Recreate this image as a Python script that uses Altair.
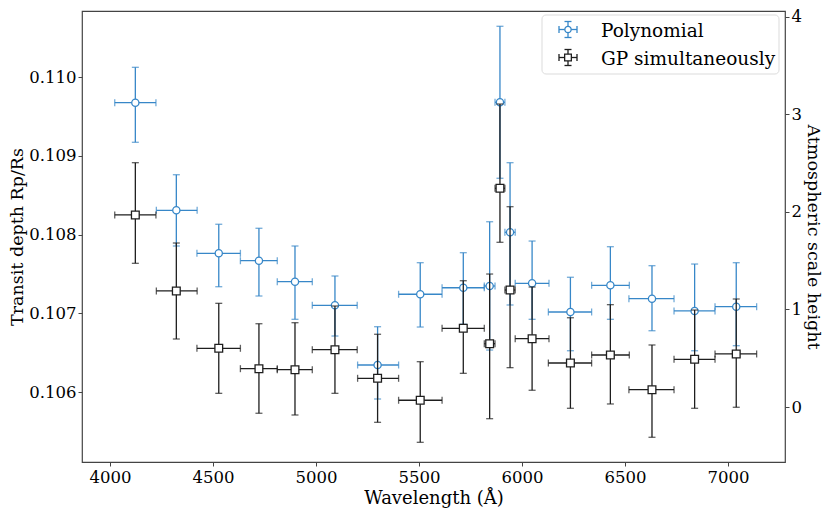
import altair as alt
import pandas as pd

# ---------------- data ----------------
wavelength = [4123, 4322, 4528, 4723, 4898, 5092, 5299, 5506, 5715, 5843,
              5893, 5942, 6049, 6235, 6429, 6631, 6838, 7040]
wl_lo = [4023, 4225, 4422, 4633, 4812, 4982, 5202, 5401, 5612, 5817,
         5869, 5917, 5967, 6128, 6338, 6519, 6738, 6937]
wl_hi = [4223, 4423, 4633, 4812, 4982, 5200, 5401, 5612, 5817, 5869,
         5917, 5967, 6131, 6338, 6521, 6738, 6937, 7139]

poly_rp = [0.109674, 0.108307, 0.107761, 0.107667, 0.107401, 0.107101, 0.106343,
           0.107241, 0.107324, 0.107346, 0.109679, 0.108028, 0.107380, 0.107016,
           0.107355, 0.107185, 0.107029, 0.107083]
poly_hi = [0.110123, 0.108759, 0.108130, 0.108079, 0.107854, 0.107473, 0.106829,
           0.107642, 0.107769, 0.108162, 0.110644, 0.108912, 0.107917, 0.107457,
           0.107845, 0.107604, 0.107625, 0.107642]
poly_lo = [0.109171, 0.107854, 0.107337, 0.107219, 0.106923, 0.106711, 0.105911,
           0.106825, 0.106860, 0.106533, 0.108714, 0.107105, 0.106923, 0.106524,
           0.106923, 0.106778, 0.106524, 0.106588]

gp_rp = [0.108248, 0.107283, 0.106555, 0.106296, 0.106283, 0.106537, 0.106174,
         0.105895, 0.106809, 0.106613, 0.108587, 0.107295, 0.106677, 0.106368,
         0.106470, 0.106029, 0.106415, 0.106483]
gp_hi = [0.108912, 0.107892, 0.107126, 0.106867, 0.106880, 0.107092, 0.106733,
         0.106385, 0.107413, 0.107498, 0.109657, 0.108353, 0.107333, 0.106943,
         0.107109, 0.106597, 0.107041, 0.107181]
gp_lo = [0.107634, 0.106673, 0.105983, 0.105730, 0.105708, 0.105983, 0.105615,
         0.105361, 0.106237, 0.105661, 0.107901, 0.106309, 0.106022, 0.105793,
         0.105848, 0.105425, 0.105793, 0.105806]

wavelength_ticks = [4000, 4500, 5000, 5500, 6000, 6500, 7000]
rp_ticks = [0.106, 0.107, 0.108, 0.109, 0.110]
scale_height_ticks = [0, 1, 2, 3, 4]
series_names = ["Polynomial", "GP simultaneously"]

# ---------------- styling ----------------
FONT = "DejaVu Serif"
BLUE = "#3787c8"
BLACK = "#1e1e1e"
LFS = 16.5  # tick labels
TFS = 18    # x axis title
YTFS = 17.5 # y axis titles
GFS = 18.5  # legend text

TOP = 3
OX, OY = 82, 8 + TOP          # plot-area origin on the page
W = 703
H = 462 - OY
x_dom = [4000 - (110 - OX) / 0.206, 7000 + (OX + W - 728) / 0.206]
y_dom = [0.110 - (462 - 77) / 78750, 0.110 + (77 - OY) / 78750]
H_PX = (407 - 16.5) / 4       # pixels per scale height
h_dom = [0 - (462 - 407) / H_PX, 4 + (16.5 - OY) / H_PX]

x_scale = alt.Scale(domain=x_dom, nice=False, zero=False)
y_scale = alt.Scale(domain=y_dom, nice=False, zero=False)
x_axis = alt.Axis(title="Wavelength (Å)", values=wavelength_ticks, format="d",
                  titleFontSize=TFS, titlePadding=4, labelPadding=3)
y_axis = alt.Axis(title="Transit depth Rp/Rs", values=rp_ticks, format=".3f",
                  titleFontSize=YTFS, titlePadding=2, labelPadding=2)


def X(f):
    return alt.X(f, type="quantitative", scale=x_scale, axis=x_axis)


def Y(f):
    return alt.Y(f, type="quantitative", scale=y_scale, axis=y_axis)


def series_layers(df, color, shape, size):
    base = alt.Chart(df)
    lw = 1.3
    xbar = base.mark_rule(color=color, strokeWidth=lw).encode(x=X("xlo"), x2="xhi", y=Y("y"))
    ybar = base.mark_rule(color=color, strokeWidth=lw).encode(x=X("x"), y=Y("ylo"), y2="yhi")
    xcap_l = base.mark_tick(color=color, orient="vertical", size=7, thickness=lw).encode(
        x=X("xlo"), y=Y("y"))
    xcap_r = base.mark_tick(color=color, orient="vertical", size=7, thickness=lw).encode(
        x=X("xhi"), y=Y("y"))
    ycap_l = base.mark_tick(color=color, orient="horizontal", size=7, thickness=lw).encode(
        x=X("x"), y=Y("ylo"))
    ycap_h = base.mark_tick(color=color, orient="horizontal", size=7, thickness=lw).encode(
        x=X("x"), y=Y("yhi"))
    pts = base.mark_point(shape=shape, size=size, filled=True, fill="white",
                          stroke=color, strokeWidth=lw, opacity=1).encode(
        x=X("x"), y=Y("y"))
    return [xbar, ybar, xcap_l, xcap_r, ycap_l, ycap_h, pts]


poly_df = pd.DataFrame({"x": wavelength, "xlo": wl_lo, "xhi": wl_hi,
                        "y": poly_rp, "ylo": poly_lo, "yhi": poly_hi})
gp_df = pd.DataFrame({"x": wavelength, "xlo": wl_lo, "xhi": wl_hi,
                      "y": gp_rp, "ylo": gp_lo, "yhi": gp_hi})

layers = series_layers(poly_df, BLUE, "circle", 52) + series_layers(gp_df, BLACK, "square", 60)

# ---------------- legend (drawn by hand, positions relative to plot area) ----------------
one = pd.DataFrame({"k": [0]})
leg = []
leg.append(alt.Chart(one).mark_rect(fill="white", stroke="#d9d9d9", strokeWidth=1,
                                    cornerRadius=4, opacity=0.9).encode(
    x=alt.value(542 - OX), x2=alt.value(779 - OX), y=alt.value(15 - OY), y2=alt.value(74 - OY)))
for i, (name, color, shape, size) in enumerate(
        [(series_names[0], BLUE, "circle", 40), (series_names[1], BLACK, "square", 45)]):
    cy = 29.5 + 28 * i - OY
    cx = 568 - OX
    leg.append(alt.Chart(one).mark_rule(color=color, strokeWidth=1.3).encode(
        x=alt.value(cx - 9), x2=alt.value(cx + 9), y=alt.value(cy)))
    leg.append(alt.Chart(one).mark_rule(color=color, strokeWidth=1.3).encode(
        x=alt.value(cx), y=alt.value(cy - 8), y2=alt.value(cy + 8)))
    for dx in (-9, 9):
        leg.append(alt.Chart(one).mark_rule(color=color, strokeWidth=1.3).encode(
            x=alt.value(cx + dx), y=alt.value(cy - 3.5), y2=alt.value(cy + 3.5)))
    for dy in (-8, 8):
        leg.append(alt.Chart(one).mark_rule(color=color, strokeWidth=1.3).encode(
            x=alt.value(cx - 3.5), x2=alt.value(cx + 3.5), y=alt.value(cy + dy)))
    leg.append(alt.Chart(one).mark_point(shape=shape, size=size, filled=True, fill="white",
                                         stroke=color, strokeWidth=1.3, opacity=1).encode(
        x=alt.value(cx), y=alt.value(cy)))
    leg.append(alt.Chart(one).mark_text(text=name, align="left", baseline="middle",
                                        font=FONT, fontSize=GFS, color="black").encode(
        x=alt.value(601 - OX), y=alt.value(cy + 1)))

left = alt.layer(*layers, *leg)

# ---------------- right axis ----------------
right_df = pd.DataFrame({"h": scale_height_ticks})
right = alt.Chart(right_df).mark_point(opacity=0).encode(
    y=alt.Y("h:Q", scale=alt.Scale(domain=h_dom, nice=False, zero=False),
            axis=alt.Axis(orient="right", title="Atmospheric scale height",
                          values=scale_height_ticks, format="d",
                          titleFontSize=YTFS, titlePadding=2, labelPadding=2)))

chart = alt.layer(left, right).resolve_scale(y="independent").properties(
    width=W, height=H,
    autosize=alt.AutoSizeParams(type="none"),
    padding={"left": OX - 8, "top": TOP, "right": 815 - (OX - 8) - W, "bottom": 500 - TOP - H},
).configure_view(
    stroke="#444444", strokeWidth=1.2
).configure_axis(
    grid=False, domain=False,
    labelFont=FONT, titleFont=FONT, labelFontSize=LFS,
    titleFontWeight="normal", labelColor="black", titleColor="black",
    tickColor="#444444", tickSize=4,
    labelFlush=False, labelOverlap=False,
)

chart.save("out.html", embed_options={"renderer": "svg", "actions": False})
